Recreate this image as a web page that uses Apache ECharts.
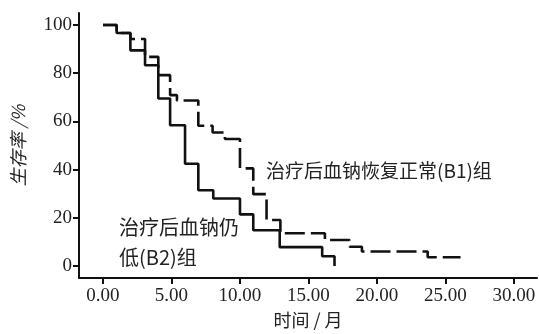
<!DOCTYPE html>
<html>
<head>
<meta charset="utf-8">
<script src="https://cdn.jsdelivr.net/npm/echarts@6/dist/echarts.min.js"></script>
<style>
html,body{margin:0;padding:0;background:#fff;}
#c{width:539px;height:334px;}
</style>
</head>
<body>
<div id="c"></div>
<script>
// Kaplan-Meier step data (time in months, survival %)
var b1Times  = [0, 1.0, 2.0, 3.07, 4.04, 4.9, 5.4, 6.96, 8.0, 8.9, 10.0, 10.97, 11.94, 12.95, 16.2, 18.0, 18.9, 23.7, 26.1];
var b1Values = [100, 96.7, 94.2, 86.8, 79.2, 70.9, 68.7, 58.2, 55.4, 52.7, 40.5, 29.8, 19.1, 13.6, 10.8, 8.0, 6.0, 3.6, 3.6];
var b2Times  = [0, 1.0, 2.0, 3.07, 4.04, 4.9, 5.99, 6.96, 8.05, 10.0, 10.97, 12.9, 16.0, 16.9];
var b2Values = [100, 96.7, 89.5, 83.3, 69.5, 58.4, 42.4, 31.4, 28.0, 21.4, 14.8, 7.8, 4.0, 0];
var xTicks = [0, 5, 10, 15, 20, 25, 30];
var yTicks = [0, 20, 40, 60, 80, 100];
var b1Label = '治疗后血钠恢复正常(B1)组';
var b2Label = ['治疗后血钠仍', '低(B2)组'];
var xTitle = '时间 / 月';
var yTitle = '生存率 /%';

function pairs(t, v){ return t.map(function(x,i){ return [x, v[i]]; }); }

var serif = '"Liberation Serif","DejaVu Serif",serif';
var cjk = '"Noto Sans CJK SC","Noto Sans",sans-serif';
var chart = echarts.init(document.getElementById('c'), null, {renderer:'canvas'});
chart.setOption({
  animation: false,
  backgroundColor: '#ffffff',
  grid: {left: 79, right: 2, top: 13, bottom: 54, containLabel: false},
  xAxis: {
    type: 'value', min: -1.75, max: 31.68,
    axisLine: {show: true, onZero: false, lineStyle: {color: '#111', width: 2}},
    axisTick: {show: true, length: 6, customValues: xTicks, lineStyle: {color: '#111', width: 2}},
    axisLabel: {customValues: xTicks, color: '#222', fontFamily: serif, fontSize: 19, margin: 9,
      formatter: function(v){ return Number(v).toFixed(2); }},
    splitLine: {show: false},
    name: xTitle, nameLocation: 'middle', nameGap: 33,
    nameTextStyle: {color: '#222', fontFamily: cjk, fontSize: 18}
  },
  yAxis: {
    type: 'value', min: -5, max: 105,
    axisLine: {show: true, onZero: false, lineStyle: {color: '#111', width: 2}},
    axisTick: {show: true, length: 6, customValues: yTicks, lineStyle: {color: '#111', width: 2}},
    axisLabel: {customValues: yTicks, color: '#222', fontFamily: serif, fontSize: 19, margin: 7},
    splitLine: {show: false},
    name: yTitle, nameLocation: 'middle', nameGap: 52, nameRotate: 90,
    nameTextStyle: {color: '#222', fontFamily: cjk, fontSize: 18, fontStyle: 'italic'}
  },
  series: [
    {
      name: 'B1', type: 'line', step: 'end', showSymbol: false, symbol: 'none',
      data: pairs(b1Times, b1Values),
      lineStyle: {color: '#111', width: 2.6, type: [20, 6]}
    },
    {
      name: 'B2', type: 'line', step: 'end', showSymbol: false, symbol: 'none',
      data: pairs(b2Times, b2Values),
      lineStyle: {color: '#111', width: 2.6, type: 'solid'}
    }
  ],
  graphic: [
    {type: 'text', left: 266, top: 161, style: {text: b1Label, fill: '#222', font: '19px ' + cjk}},
    {type: 'text', left: 119, top: 212, style: {text: b2Label.join('\n'), fill: '#222', font: '20px ' + cjk, lineHeight: 30}}
  ]
});
</script>
</body>
</html>
